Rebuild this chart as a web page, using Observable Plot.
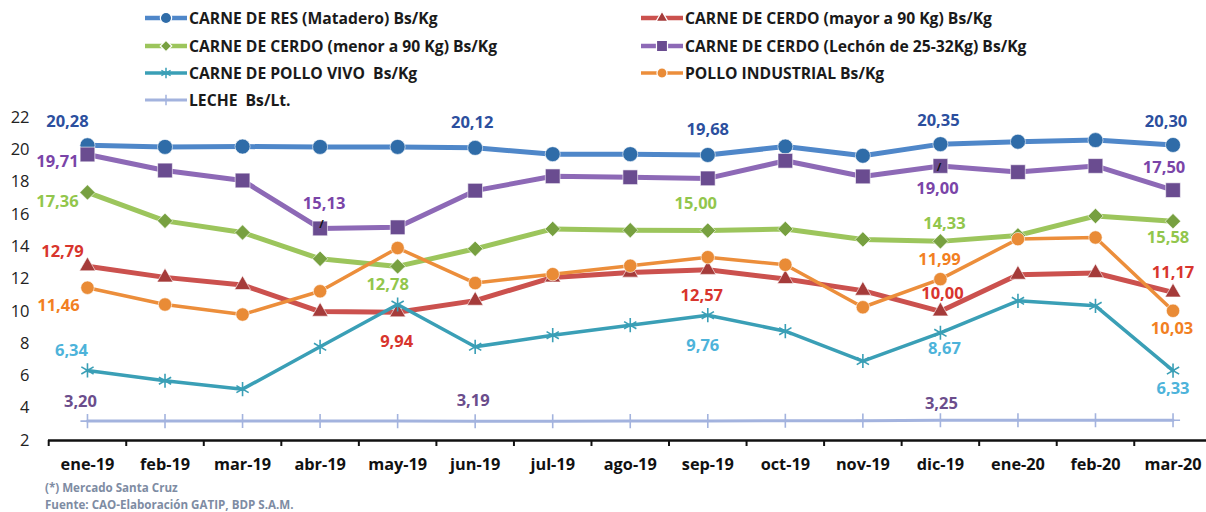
<!DOCTYPE html>
<html><head><meta charset="utf-8">
<script src="https://cdn.jsdelivr.net/npm/d3@7"></script>
<script src="https://cdn.jsdelivr.net/npm/@observablehq/plot@0.6"></script>
<style>
body{margin:0;background:#fff;font-family:"Open Sans",sans-serif;}
#legend{position:relative;height:108px;width:1206px;}
.item{position:absolute;display:flex;align-items:center;font-weight:700;font-size:15.7px;color:#1a1a1a;white-space:pre;height:22px}
.item svg{margin-right:2px;flex:none}
#footer{padding-left:45px;padding-top:1px;font-size:11.6px;font-weight:700;color:#7e8ca3;line-height:17px}
</style></head><body>
<div id="legend"></div><div id="chart"></div>
<div id="footer"><div>(*) Mercado Santa Cruz</div><div>Fuente: CAO-Elaboración GATIP, BDP S.A.M.</div></div>
<script>
const months = ["ene-19","feb-19","mar-19","abr-19","may-19","jun-19","jul-19","ago-19","sep-19","oct-19","nov-19","dic-19","ene-20","feb-20","mar-20"];
const carneRes    = [20.28,20.18,20.20,20.18,20.18,20.12,19.73,19.73,19.68,20.20,19.63,20.35,20.50,20.60,20.30];
const cerdoMayor  = [12.79,12.10,11.63,9.98,9.94,10.66,12.10,12.40,12.57,12.00,11.28,10.00,12.27,12.37,11.17];
const cerdoMenor  = [17.36,15.60,14.88,13.25,12.78,13.87,15.10,15.02,15.00,15.10,14.45,14.33,14.70,15.90,15.58];
const cerdoLechon = [19.71,18.72,18.10,15.13,15.20,17.47,18.36,18.30,18.23,19.32,18.35,19.00,18.62,19.00,17.50];
const polloVivo   = [6.34,5.70,5.18,7.80,10.42,7.80,8.52,9.14,9.76,8.77,6.92,8.67,10.65,10.34,6.33];
const polloIndustrial = [11.46,10.42,9.80,11.24,13.92,11.75,12.30,12.82,13.35,12.88,10.25,11.99,14.47,14.57,10.03];
const leche       = [3.20,3.20,3.21,3.21,3.20,3.19,3.19,3.20,3.21,3.22,3.23,3.25,3.25,3.25,3.25];
const yTicks = [2,4,6,8,10,12,14,16,18,20,22];

const series = [
  {key:"res", name:"CARNE DE RES (Matadero) Bs/Kg", values:carneRes, line:"#4f87c9", marker:"#2f6ca8", symbol:"circle", r:7.5, width:5, label:"#2c4f9e"},
  {key:"mayor", name:"CARNE DE CERDO (mayor a 90 Kg) Bs/Kg", values:cerdoMayor, line:"#cb514e", marker:"#a53b3a", symbol:"triangle", r:5.9, width:5, label:"#d8352d"},
  {key:"menor", name:"CARNE DE CERDO (menor a 90 Kg) Bs/Kg", values:cerdoMenor, line:"#9cc55c", marker:"#77a040", symbol:"diamond2", r:6.9, width:5, label:"#92c64c"},
  {key:"lechon", name:"CARNE DE CERDO (Lechón de 25-32Kg) Bs/Kg", values:cerdoLechon, line:"#8d69b6", marker:"#6a4c90", symbol:"square", r:8.3, width:5, label:"#7a44a8"},
  {key:"vivo", name:"CARNE DE POLLO VIVO  Bs/Kg", values:polloVivo, line:"#3a9fb6", marker:"#3a9fb6", symbol:"asterisk", r:6.7, width:3.5, label:"#4db3da"},
  {key:"industrial", name:"POLLO INDUSTRIAL Bs/Kg", values:polloIndustrial, line:"#ec8e3b", marker:"#e98b36", symbol:"circle", r:6.7, width:3.5, label:"#f27f22"},
  {key:"leche", name:"LECHE  Bs/Lt.", values:leche, line:"#a3b3de", marker:"#a3b3de", symbol:"plus", r:4.6, width:3, label:"#6b4d8c"}
];

// label placement: [series key, month index, dx, dy]
const labelPlacement = [
  ["res",0,-20,-24],["res",5,-3,-25],["res",8,0,-25],["res",11,-2,-23],["res",14,-7,-23],
  ["lechon",0,-30,7],["lechon",3,4,-25],["lechon",11,-3,23],["lechon",14,-9,-22],
  ["menor",0,-30,9],["menor",4,-10,18],["menor",8,-12,-27],["menor",11,4,-18],["menor",14,-5,17],
  ["mayor",0,-25,-15],["mayor",4,-1,29],["mayor",8,-6,26],["mayor",11,2,-18],["mayor",14,0,-20],
  ["industrial",0,-29,18],["industrial",11,-1,-19],["industrial",14,-1,18],
  ["vivo",0,-16,-20],["vivo",8,-5,31],["vivo",11,4,16],["vivo",14,0,18],
  ["leche",0,-7,-19],["leche",5,-2,-21],["leche",11,1,-17]
];
// small leader strokes near two Lechón labels: [series key, month index, dx, dy]
const leaderPlacement = [["lechon",3,1.5,-4],["lechon",11,-1.5,2]];

const fmt = v => v.toFixed(2).replace(".", ",");
const byKey = Object.fromEntries(series.map(s => [s.key, s]));

// Legend
const legendPos = [
  ["res",145,7],["menor",145,35],["vivo",145,62],["leche",145,89],
  ["mayor",641,7],["lechon",641,35],["industrial",641,62]
];
const legend = d3.select("#legend");
for (const [k, left, top] of legendPos) {
  const s = byKey[k];
  const item = legend.append("div").attr("class","item").style("left", left+"px").style("top", top+"px");
  const svg = item.append("svg").attr("width",42).attr("height",22);
  svg.append("line").attr("x1",0).attr("x2",42).attr("y1",11).attr("y2",11).attr("stroke",s.line).attr("stroke-width",Math.min(s.width,4.5));
  const sym = {circle:d3.symbolCircle, triangle:d3.symbolTriangle, diamond2:d3.symbolDiamond2, square:d3.symbolSquare, asterisk:d3.symbolAsterisk, plus:d3.symbolPlus}[s.symbol];
  const rr = s.r*0.75;
  const strokeSym = (s.symbol==="asterisk"||s.symbol==="plus");
  svg.append("path").attr("transform","translate(21,11)").attr("d", d3.symbol(sym, Math.PI*rr*rr)())
    .attr("fill", strokeSym ? "none" : s.marker).attr("stroke", strokeSym ? s.marker : "white").attr("stroke-width", strokeSym ? 1.5 : 1.2);
  item.append("span").text(s.name);
}

// Tidy data
const table = series.flatMap(s => s.values.map((v,i) => ({key:s.key, i, v})));
const labelRows = labelPlacement.map(([k,i,dx,dy]) => ({k, i, v: byKey[k].values[i], dx, dy}));

const marks = [
  Plot.ruleY([2], {stroke:"#111", strokeWidth:2.5}),
  Plot.axisX(d3.range(-0.5, months.length - 1, 1), {tickSize:6, strokeWidth:2, stroke:"#111", tickFormat:() => "", label:null}),
  Plot.axisX(d3.range(months.length), {tickSize:0, tickPadding:18, tickFormat:i => months[i], fontSize:16.3, fontWeight:700, fill:"#111", label:null}),
  Plot.axisY(yTicks, {tickSize:0, tickPadding:19, fontSize:16.5, fill:"#222", label:null})
];
for (const s of series) {
  const rows = table.filter(d => d.key === s.key);
  marks.push(Plot.line(rows, {x:"i", y:"v", stroke:s.line, strokeWidth:s.width, strokeLinejoin:"round"}));
  const strokeSym = (s.symbol==="asterisk"||s.symbol==="plus");
  marks.push(Plot.dot(rows, {x:"i", y:"v", symbol:s.symbol, r:s.r,
    fill: strokeSym ? "none" : s.marker, stroke: strokeSym ? s.marker : "white",
    strokeWidth: strokeSym ? 1.6 : 0.6}));
}
for (const [k,i,dx,dy] of leaderPlacement) {
  marks.push(Plot.text([{i, v: byKey[k].values[i]}], {x:"i", y:"v", text:() => "/", dx, dy, fill:"#111", fontSize:11, fontWeight:700}));
}
for (const L of labelRows) {
  marks.push(Plot.text([L], {x:"i", y:"v", text:d => fmt(d.v), dx:L.dx, dy:L.dy,
    fill: byKey[L.k].label, fontSize:16.5, fontWeight:700}));
}

const chart = Plot.plot({
  width:1206, height:370,
  marginTop:9, marginBottom:38, marginLeft:48, marginRight:0,
  style:{fontFamily:"'Open Sans', sans-serif", background:"white", overflow:"visible"},
  x:{type:"linear", domain:[-0.5, months.length - 0.5], range:[48.2, 1211.3], axis:null},
  y:{domain:[2,22], axis:null},
  marks
});
document.getElementById("chart").append(chart);
</script>
</body></html>
